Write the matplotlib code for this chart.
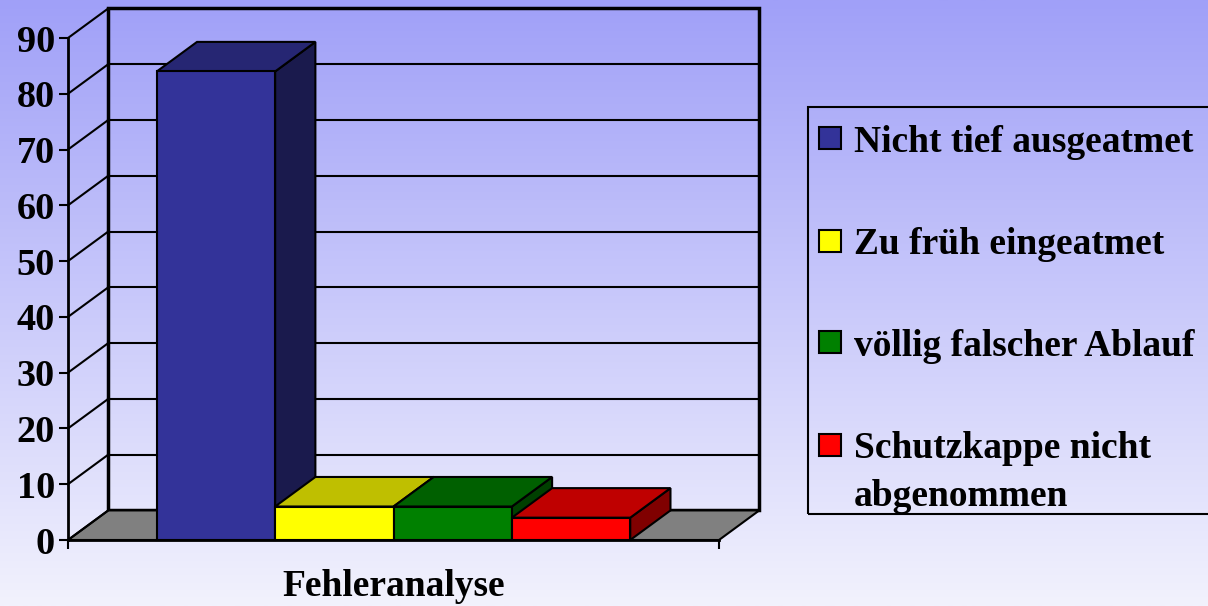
import numpy as np
import matplotlib
matplotlib.use("Agg")
import matplotlib.pyplot as plt
from matplotlib.colors import to_rgb
from matplotlib.patches import Polygon, Rectangle

labels = ["Nicht tief ausgeatmet", "Zu früh eingeatmet",
          "völlig falscher Ablauf", "Schutzkappe nicht\nabgenommen"]
values = [84, 6, 6, 4]
colors = ["#333399", "#FFFF00", "#008000", "#FF0000"]
yticks = list(range(0, 100, 10))
xlabel = "Fehleranalyse"

plt.rcParams['font.family'] = ['Liberation Serif', 'DejaVu Serif']
plt.rcParams['font.weight'] = 'bold'

W, H = 1208, 606
fig = plt.figure(figsize=(W / 100, H / 100), dpi=100)

# background gradient
bg = fig.add_axes([0, 0, 1, 1], zorder=0)
t = np.linspace(0, 1, 256)[:, None, None]
c_top = np.array([160, 160, 248]) / 255
c_bot = np.array([242, 242, 253]) / 255
bg.imshow(c_top + (c_bot - c_top) * t, aspect='auto', extent=[0, 1, 0, 1])
bg.axis('off')

ax = fig.add_axes([68 / W, (H - 540) / H, 651 / W, 502 / H], zorder=1)
ax.patch.set_alpha(0)
x0, x1 = -0.75, len(values) + 0.75
ax.set_xlim(x0, x1)
ax.set_ylim(0, 90)
dx, dy = 0.34, 5.3   # depth offset of the 3d look


def shade(c, f):
    return tuple(np.array(to_rgb(c)) * f)


# back wall and side wall lines
ax.add_patch(Rectangle((x0 + dx, dy), x1 - x0, 90, fill=False, ec='black',
                       lw=2.5, clip_on=False))
for v in yticks[1:-1]:
    ax.plot([x0 + dx, x1 + dx], [v + dy, v + dy], color='black', lw=1.5, clip_on=False)
for v in yticks:
    ax.plot([x0, x0 + dx], [v, v + dy], color='black', lw=1.5, clip_on=False)

# floor
ax.add_patch(Polygon([(x0, 0), (x1, 0), (x1 + dx, dy), (x0 + dx, dy)],
                     fc='#808080', ec='black', lw=1.5, clip_on=False))

# bars
for i, (v, c) in enumerate(zip(values, colors)):
    ax.add_patch(Polygon([(i + 1, 0), (i + 1 + dx, dy), (i + 1 + dx, v + dy), (i + 1, v)],
                         fc=shade(c, 0.5), ec='black', lw=1.5, clip_on=False, zorder=3))
    ax.add_patch(Polygon([(i, v), (i + 1, v), (i + 1 + dx, v + dy), (i + dx, v + dy)],
                         fc=shade(c, 0.75), ec='black', lw=1.5, clip_on=False, zorder=3))
    ax.add_patch(Rectangle((i, 0), 1, v, fc=c, ec='black', lw=1.5,
                           clip_on=False, zorder=3))

for s in ['top', 'right']:
    ax.spines[s].set_visible(False)
for s in ['left', 'bottom']:
    ax.spines[s].set_linewidth(2)

ax.set_yticks(yticks)
ax.tick_params(axis='y', direction='out', length=6.5, width=1.5, labelsize=27.5, pad=3)
ax.set_xticks([x0, x1])
ax.set_xticklabels([])
ax.tick_params(axis='x', direction='out', length=6.5, width=1.5)
ax.set_xlabel(xlabel, fontsize=27, fontweight='bold', labelpad=11)

# legend
fig.patches.append(Rectangle((808 / W, (H - 514) / H), (1240 - 808) / W, 407 / H,
                             fill=False, ec='black', lw=1.5, transform=fig.transFigure,
                             figure=fig, zorder=5))
rows = [138, 241, 342, 445]
for lab, c, yc in zip(labels, colors, rows):
    fig.patches.append(Rectangle((819 / W, (H - yc - 11) / H), 22 / W, 22 / H,
                                 fc=c, ec='black', lw=1.5, transform=fig.transFigure,
                                 figure=fig, zorder=5))
    for k, line in enumerate(lab.split("\n")):
        fig.text(854 / W, (H - yc - 47 * k) / H, line, fontsize=27, fontweight='bold',
                 va='center_baseline', ha='left', zorder=5)

fig.savefig("out.png", dpi=100)
